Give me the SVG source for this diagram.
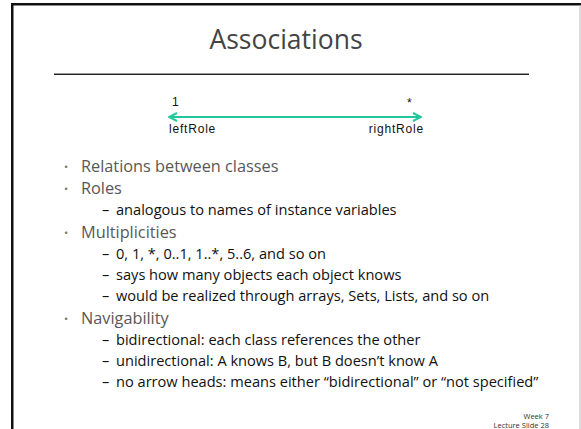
<svg xmlns="http://www.w3.org/2000/svg" width="581" height="429" viewBox="0 0 581 429">
  <style>
    .title { font-family: "Open Sans", "Noto Sans", sans-serif; font-size: 26.5px; fill: #444; }
    .l1 { font-family: "Open Sans", "Noto Sans", sans-serif; font-size: 16.3px; fill: #585858; }
    .l2 { font-family: "Open Sans", "Noto Sans", sans-serif; font-size: 14.6px; fill: #111; }
    .dot { font-family: "Open Sans", "Noto Sans", sans-serif; font-size: 11px; fill: #777; }
    .uml { font-family: "Liberation Sans", Arial, sans-serif; font-size: 12px; letter-spacing: 0.8px; fill: #111; }
    .foot { font-family: "Open Sans", "Noto Sans", sans-serif; font-size: 7.5px; fill: #333; text-anchor: end; }
    .assoc { stroke: #22c79b; stroke-width: 2; fill: none; }
  </style>
  <defs>
    <marker id="open-head" viewBox="0 0 10 10" refX="9" refY="5" markerWidth="10" markerHeight="10" markerUnits="userSpaceOnUse" orient="auto-start-reverse">
      <path d="M1,1 L9,5 L1,9" fill="none" stroke="#22c79b" stroke-width="2"/>
    </marker>
  </defs>

  <!-- slide frame -->
  <rect x="0" y="0" width="581" height="429" fill="#fff"/>
  <rect x="11" y="3" width="570" height="2.5" fill="#111"/>
  <rect x="11" y="3" width="2.5" height="426" fill="#111"/>
  <rect x="579.5" y="5" width="1" height="424" fill="#bbb"/>

  <!-- heading -->
  <g id="heading">
    <text class="title" x="286" y="49" text-anchor="middle">Associations</text>
    <rect x="54" y="73" width="475" height="1" fill="#999"/>
    <rect x="54" y="74" width="475" height="1" fill="#222"/>
  </g>

  <!-- association example -->
  <g id="connectors">
    <line class="assoc" x1="169" y1="117" x2="421" y2="117" marker-start="url(#open-head)" marker-end="url(#open-head)"/>
  </g>
  <g id="left-end">
    <text class="uml" x="172" y="106">1</text>
    <text class="uml" x="169" y="133">leftRole</text>
  </g>
  <g id="right-end">
    <text class="uml" x="407" y="107">*</text>
    <text class="uml" x="424" y="133" text-anchor="end">rightRole</text>
  </g>

  <!-- bullet list -->
  <g id="bullets">
    <text class="dot" x="64" y="171">•</text>
    <text class="l1" x="81" y="172">Relations between classes</text>

    <text class="dot" x="64" y="193">•</text>
    <text class="l1" x="81" y="194">Roles</text>
    <text class="l2" x="102" y="215">–</text>
    <text class="l2" x="116" y="215">analogous to names of instance variables</text>

    <text class="dot" x="64" y="237">•</text>
    <text class="l1" x="81" y="238">Multiplicities</text>
    <text class="l2" x="102" y="259">–</text>
    <text class="l2" x="116" y="259">0, 1, *, 0..1, 1..*, 5..6, and so on</text>
    <text class="l2" x="102" y="280">–</text>
    <text class="l2" x="116" y="280">says how many objects each object knows</text>
    <text class="l2" x="102" y="301">–</text>
    <text class="l2" x="116" y="301">would be realized through arrays, Sets, Lists, and so on</text>

    <text class="dot" x="64" y="323">•</text>
    <text class="l1" x="81" y="324">Navigability</text>
    <text class="l2" x="102" y="345">–</text>
    <text class="l2" x="116" y="345">bidirectional: each class references the other</text>
    <text class="l2" x="102" y="366">–</text>
    <text class="l2" x="116" y="366">unidirectional: A knows B, but B doesn’t know A</text>
    <text class="l2" x="102" y="387">–</text>
    <text class="l2" x="116" y="387">no arrow heads: means either “bidirectional” or “not specified”</text>
  </g>

  <!-- footer -->
  <g id="footer">
    <text class="foot" x="549" y="419">Week 7</text>
    <text class="foot" x="549" y="428">Lecture Slide 28</text>
  </g>
</svg>
